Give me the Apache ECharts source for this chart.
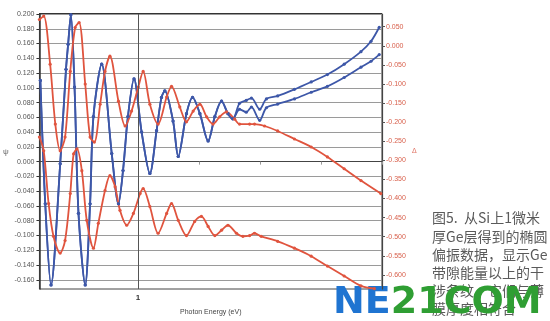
<!DOCTYPE html>
<html>
<head>
<meta charset="utf-8">
<script src="https://cdn.jsdelivr.net/npm/echarts@6/dist/echarts.min.js"></script>
<style>
html,body{margin:0;padding:0;background:#fff;}
#chart{width:550px;height:321px;}
</style>
</head>
<body>
<div id="chart"></div>
<script>
// ---- data (photon energy in eV, value) ----
const psiShared = [[0.680,0.110],[0.696,-0.057],[0.715,-0.167],[0.745,-0.003],[0.764,0.125],[0.771,0.159],[0.780,0.199],[0.792,0.101],[0.805,-0.070],[0.827,-0.167],[0.843,-0.057],[0.854,0.061],[0.881,0.132],[0.914,0.011],[0.936,-0.057],[0.951,-0.012],[0.967,0.061],[0.987,0.112],[1.012,0.040],[1.039,-0.016],[1.061,0.042],[1.077,0.087],[1.088,0.096],[1.115,0.055],[1.132,0.007],[1.159,0.065],[1.179,0.087],[1.203,0.065],[1.230,0.028],[1.252,0.061],[1.274,0.082],[1.295,0.065],[1.311,0.058]];
const psiUpperTail = [[1.333,0.079],[1.355,0.083],[1.372,0.086],[1.399,0.071],[1.421,0.085],[1.458,0.089],[1.513,0.098],[1.568,0.108],[1.621,0.118],[1.676,0.132],[1.731,0.149],[1.764,0.163],[1.791,0.182]];
const psiLowerTail = [[1.333,0.071],[1.355,0.067],[1.372,0.074],[1.399,0.056],[1.421,0.073],[1.458,0.078],[1.513,0.085],[1.568,0.094],[1.621,0.102],[1.676,0.114],[1.731,0.128],[1.764,0.136],[1.791,0.145]];
const deltaUpper = [[0.677,0.069],[0.691,0.078],[0.712,-0.048],[0.729,-0.205],[0.745,-0.275],[0.761,-0.239],[0.778,-0.067],[0.794,0.048],[0.807,0.061],[0.827,-0.100],[0.843,-0.239],[0.857,-0.252],[0.876,-0.153],[0.892,-0.067],[0.908,-0.027],[0.936,-0.145],[0.958,-0.210],[0.979,-0.171],[1.001,-0.108],[1.017,-0.067],[1.039,-0.153],[1.066,-0.205],[1.094,-0.134],[1.110,-0.106],[1.137,-0.160],[1.159,-0.199],[1.181,-0.171],[1.203,-0.153],[1.225,-0.186],[1.246,-0.205],[1.268,-0.186],[1.290,-0.173],[1.317,-0.192],[1.333,-0.205],[1.366,-0.205],[1.382,-0.205],[1.415,-0.210],[1.458,-0.223],[1.513,-0.244],[1.568,-0.265],[1.621,-0.291],[1.676,-0.322],[1.731,-0.353],[1.796,-0.387]];
const deltaLower = [[0.677,-0.239],[0.691,-0.275],[0.707,-0.413],[0.723,-0.499],[0.745,-0.543],[0.761,-0.510],[0.778,-0.387],[0.789,-0.283],[0.800,-0.270],[0.816,-0.327],[0.832,-0.457],[0.854,-0.530],[0.870,-0.465],[0.892,-0.379],[0.908,-0.340],[0.925,-0.369],[0.941,-0.431],[0.963,-0.470],[0.985,-0.439],[1.007,-0.387],[1.017,-0.374],[1.039,-0.421],[1.066,-0.491],[1.094,-0.439],[1.110,-0.413],[1.132,-0.457],[1.159,-0.497],[1.186,-0.460],[1.208,-0.447],[1.230,-0.473],[1.252,-0.497],[1.274,-0.483],[1.295,-0.470],[1.323,-0.491],[1.344,-0.499],[1.366,-0.497],[1.382,-0.491],[1.404,-0.499],[1.458,-0.512],[1.513,-0.530],[1.568,-0.551],[1.621,-0.577],[1.676,-0.603],[1.731,-0.629],[1.775,-0.636]];
const psiTicks = [0.200,0.180,0.160,0.140,0.120,0.100,0.080,0.060,0.040,0.020,0.000,-0.020,-0.040,-0.060,-0.080,-0.100,-0.120,-0.140,-0.160];
const deltaTicks = [0.050,0.000,-0.050,-0.100,-0.150,-0.200,-0.250,-0.300,-0.350,-0.400,-0.450,-0.500,-0.550,-0.600];
const energyTicks = [0.8,1.0,1.2,1.4,1.6,1.8];
const energyLabels = [1];
const captionLines = ['图5.  从Si上1微米','厚Ge层得到的椭圆','偏振数据，显示Ge','带隙能量以上的干','涉条纹，它们与薄','膜厚度相符合'];

const blue = '#3d57a8', red = '#e0543e';
const chart = echarts.init(document.getElementById('chart'), null, {renderer:'canvas'});

function curve(data, color, axis, extra) {
  return Object.assign({
    type:'line', data:data, yAxisIndex:axis, smooth:0.3,
    symbol:'circle', symbolSize:3.2, showSymbol:true,
    lineStyle:{color:color, width:1.8},
    itemStyle:{color:color},
    animation:false, silent:true
  }, extra || {});
}

const graphics = captionLines.map((t,i)=>({
  type:'text', x:432, y:218 + i*18.2,
  style:{text:t, fill:'#5a5a5a', font:'14px "Noto Sans CJK SC"', verticalAlign:'middle', align:'left'}
}));
graphics.push({
  type:'text', x:333, y:303, scaleX:1.0,
  style:{
    text:'{a|NE}{b|21COM}', verticalAlign:'middle', align:'left',
    font:'bold 38px "DejaVu Sans"',
    rich:{
      a:{fill:'#1f74d1', fontSize:38, fontWeight:'bold', fontFamily:'DejaVu Sans'},
      b:{fill:'#2f9e33', fontSize:38, fontWeight:'bold', fontFamily:'DejaVu Sans'}
    }
  }
});
graphics.push({type:'line', shape:{x1:39, y1:14, x2:382, y2:14}, style:{stroke:'#333', lineWidth:2}});

chart.setOption({
  animation:false,
  backgroundColor:'#fff',
  grid:{left:39, top:14, right:168, bottom:30, show:true, borderColor:'#444', borderWidth:1, backgroundColor:'#fff'},
  xAxis:{
    type:'value', min:0.677, max:1.8,
    name:'Photon Energy (eV)', nameLocation:'middle', nameGap:20,
    nameTextStyle:{fontSize:7, color:'#444', fontFamily:'Liberation Sans'},
    axisLine:{lineStyle:{color:'#444', width:1}},
    axisTick:{show:true, customValues:energyTicks, length:3, lineStyle:{color:'#999'}},
    axisLabel:{customValues:energyLabels, fontSize:8, color:'#333', margin:5, fontFamily:'Liberation Sans', fontWeight:'bold'},
    splitLine:{show:false}
  },
  yAxis:[{
    type:'value', min:-0.1725, max:0.2, position:'left',
    name:'ψ', nameLocation:'middle', nameGap:30, nameRotate:0,
    nameTextStyle:{fontSize:8, color:'#666'},
    axisLine:{show:true, lineStyle:{color:'#333', width:1.5}},
    axisTick:{show:true, customValues:psiTicks, length:3, lineStyle:{color:'#333'}},
    axisLabel:{customValues:psiTicks, fontSize:7, color:'#555', margin:5, fontFamily:'Liberation Sans', formatter:v=>v.toFixed(3)},
    splitLine:{show:true, lineStyle:{color:'#9a9a9a', width:1}}
  },{
    type:'value', min:-0.637, max:0.0834, position:'right',
    name:'Δ', nameLocation:'middle', nameGap:30, nameRotate:0,
    nameTextStyle:{fontSize:7, color:'#e07060'},
    axisLine:{show:true, lineStyle:{color:'#444', width:1.2}},
    axisTick:{show:true, customValues:deltaTicks, length:3, lineStyle:{color:'#555'}},
    axisLabel:{customValues:deltaTicks, fontSize:7, color:'#d8604c', margin:4, fontFamily:'Liberation Sans', formatter:v=>v.toFixed(3)},
    splitLine:{show:false}
  }],
  series:[
    curve(psiShared.concat(psiUpperTail), blue, 0, {
      markLine:{silent:true, symbol:'none', label:{show:false}, animation:false,
        lineStyle:{color:'#555', width:1, type:'solid'}, data:[{xAxis:1}]}
    }),
    curve(psiShared.concat(psiLowerTail), blue, 0),
    curve(deltaUpper, red, 1),
    curve(deltaLower, red, 1)
  ],
  graphic:graphics
});
</script>
</body>
</html>
